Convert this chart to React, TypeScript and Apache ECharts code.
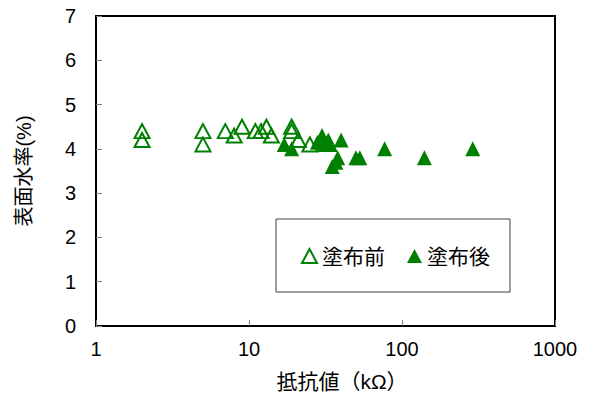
import React, { useEffect, useRef } from "react";
import * as echarts from "echarts";

// Resistance (kΩ) and surface moisture (%) before coating
const beforeResistance = [2, 2, 5, 5, 7, 8, 9, 11, 12, 13, 14, 19, 19, 21, 25];
const beforeMoisture = [4.4, 4.2, 4.4, 4.1, 4.4, 4.3, 4.5, 4.4, 4.4, 4.5, 4.3, 4.5, 4.4, 4.2, 4.1];

// Resistance (kΩ) and surface moisture (%) after coating
const afterResistance = [17, 19, 28, 30, 31, 33, 34, 35, 37, 38, 40, 50, 53, 77, 140, 290];
const afterMoisture = [4.1, 4.0, 4.15, 4.3, 4.1, 4.2, 4.1, 3.6, 3.7, 3.8, 4.2, 3.8, 3.8, 4.0, 3.8, 4.0];

const seriesNames = ["塗布前", "塗布後"];
const xAxisTitle = "抵抗値（kΩ）";
const yAxisTitle = "表面水率(%)";

const GREEN = "#008000";
const FONT = "'Liberation Sans', Arial, 'Noto Sans CJK JP', sans-serif";

const pairs = (xs: number[], ys: number[]) => xs.map((x, i) => [x, ys[i]]);

export default function App() {
  const ref = useRef<HTMLDivElement>(null);

  useEffect(() => {
    if (!ref.current) return;
    const chart = echarts.init(ref.current, null, { renderer: "svg" });
    chart.setOption({
      animation: false,
      backgroundColor: "#fff",
      textStyle: { fontFamily: FONT },
      grid: {
        left: 96,
        top: 16,
        right: 35,
        bottom: 71,
        show: true,
        borderColor: "#000",
        borderWidth: 2,
        backgroundColor: "transparent",
      },
      legend: {
        left: 276,
        top: 219,
        orient: "horizontal",
        padding: [26, 20, 25, 25],
        itemWidth: 15,
        itemHeight: 14,
        itemGap: 22,
        borderColor: "#404040",
        borderWidth: 1,
        data: seriesNames,
        textStyle: { fontSize: 21, color: "#000", fontFamily: FONT, lineHeight: 22 },
      },
      xAxis: {
        type: "log",
        logBase: 10,
        min: 1,
        max: 1000,
        axisLine: { show: true, lineStyle: { color: "#000", width: 2 } },
        axisTick: { show: true, inside: true, length: 6, lineStyle: { color: "#808080", width: 1 } },
        minorTick: { show: false },
        splitLine: { show: false },
        axisLabel: {
          fontSize: 20,
          color: "#000",
          margin: 13,
          fontFamily: FONT,
          formatter: (v: number) => String(Math.round(v)),
        },
      },
      yAxis: {
        type: "value",
        min: 0,
        max: 7,
        interval: 1,
        name: yAxisTitle,
        nameLocation: "middle",
        nameRotate: 90,
        nameGap: 62,
        nameTextStyle: { fontSize: 20, color: "#000", fontFamily: FONT },
        axisLine: { show: true, lineStyle: { color: "#000", width: 2 } },
        axisTick: { show: true, inside: true, length: 6, lineStyle: { color: "#808080", width: 1 } },
        splitLine: { show: false },
        axisLabel: { fontSize: 20, color: "#000", margin: 20, fontFamily: FONT },
      },
      graphic: [
        {
          type: "text",
          x: 342,
          y: 371,
          style: {
            text: xAxisTitle,
            fontSize: 21,
            fill: "#000",
            fontFamily: FONT,
            textAlign: "center",
            textVerticalAlign: "top",
          },
        },
      ],
      series: [
        {
          name: seriesNames[0],
          type: "scatter",
          symbol: "triangle",
          symbolSize: [15, 14],
          itemStyle: { color: "rgba(0,0,0,0)", borderColor: GREEN, borderWidth: 2, opacity: 1 },
          data: pairs(beforeResistance, beforeMoisture),
          z: 2,
        },
        {
          name: seriesNames[1],
          type: "scatter",
          symbol: "triangle",
          symbolSize: [15, 15],
          itemStyle: { color: GREEN, opacity: 1 },
          data: pairs(afterResistance, afterMoisture),
          z: 3,
        },
      ],
    });
    return () => chart.dispose();
  }, []);

  return <div ref={ref} style={{ width: 590, height: 397, position: "absolute", left: 0, top: 0 }} />;
}
